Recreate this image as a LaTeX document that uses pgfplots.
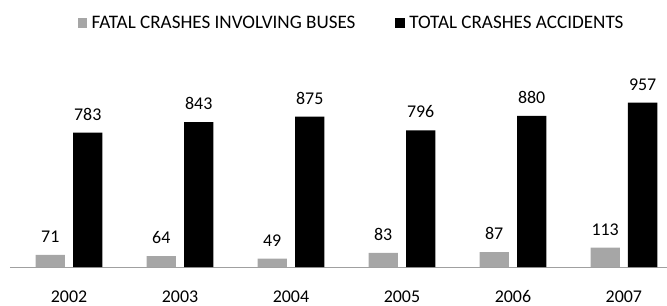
\documentclass[border=0pt]{standalone}
\usepackage{fontspec}
\setmainfont{Carlito}
\usepackage{pgfplots}
\pgfplotsset{compat=1.18}
\definecolor{bargray}{RGB}{166,166,166}
\definecolor{basegray}{RGB}{160,160,160}
\begin{document}
\begin{tikzpicture}
\begin{axis}[
  scale only axis, width=657bp, height=267.3bp,
  xmin=-0.532, xmax=5.384, ymin=0, ymax=1554,
  axis y line=none, axis x line*=bottom,
  x axis line style={draw=basegray, line width=1bp, -},
  xtick={0,1,2,3,4,5}, xticklabels={2002,2003,2004,2005,2006,2007},
  major tick length=0pt,
  xticklabel style={font=\fontsize{18}{20}\selectfont, inner sep=0pt, anchor=base, yshift=-35.5bp},
  ybar, bar width=29.3bp,
  nodes near coords,
  every node near coord/.append style={font=\fontsize{18}{20}\selectfont, inner sep=0pt, anchor=south, yshift=12bp, black},
  /pgf/number format/assume math mode=true,
  clip=false,
  legend columns=2,
  legend style={draw=none, fill=none, at={(0.5205,0.914)}, anchor=center,
    font=\fontsize{19.2}{21}\selectfont,
    /tikz/every odd column/.append style={column sep=2.5bp},
    /tikz/every even column/.append style={column sep=38bp}},
  legend cell align=left,
  legend image code/.code={\fill[#1] (0bp,-4.65bp) rectangle (9.3bp,4.65bp);},
]
\addplot[fill=bargray, draw=none, bar shift=-18.75bp] coordinates {(0,71) (1,64) (2,49) (3,83) (4,87) (5,113)};
\addplot[fill=black, draw=none, bar shift=18.75bp] coordinates {(0,783) (1,843) (2,875) (3,796) (4,880) (5,957)};
\legend{FATAL CRASHES INVOLVING BUSES, TOTAL CRASHES ACCIDENTS}
\end{axis}
\path[use as bounding box] ([xshift=-10bp,yshift=-38.7bp]current axis.south west) rectangle (current axis.north east);
\end{tikzpicture}
\end{document}
